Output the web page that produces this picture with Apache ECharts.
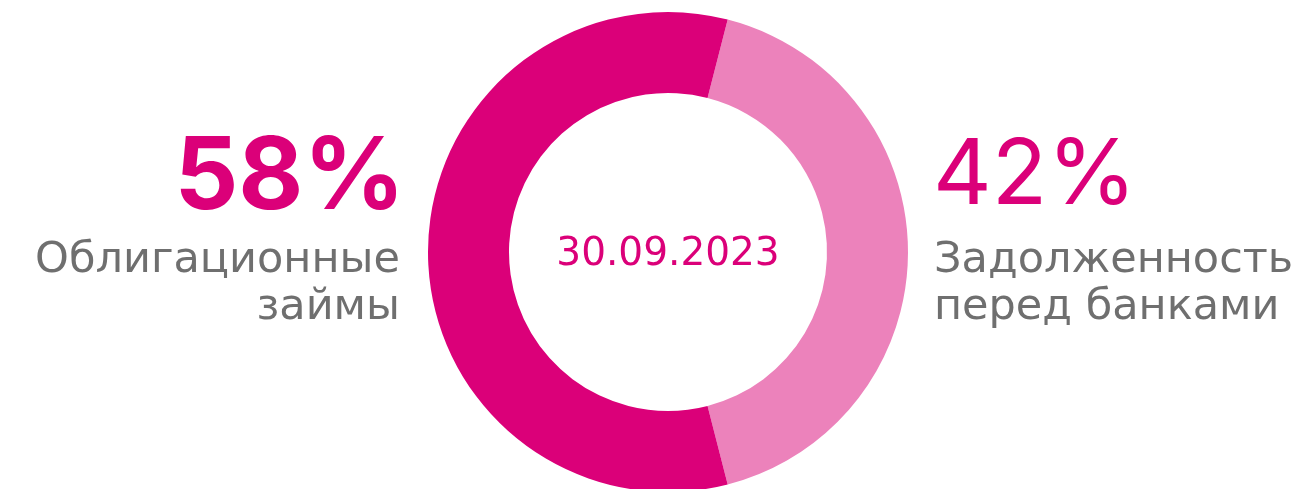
<!DOCTYPE html>
<html>
<head>
	<meta http-equiv="Content-Type" content="text/html;charset=utf-8">
	<title>Структура долга</title>
	<style>
		html, body{
			margin: 0;
			padding: 0;
			background: #fff;
		}
		#chart{
			width: 1311px;
			height: 489px;
		}
	</style>
</head>
<body>
<div id="chart"></div>

<script src="https://cdn.jsdelivr.net/npm/echarts@6/dist/echarts.min.js"></script>
<script>
	// данные
	var names = ['Задолженность\nперед банками', 'Облигационные\nзаймы'];
	var values = [42, 58];
	var colors = ['#ec82bb', '#db0079'];
	var dateLabel = '30.09.2023';

	var numFont = 'Inter, sans-serif';
	var txtFont = '"DejaVu Sans", sans-serif';
	var total = values.reduce(function (a, b){ return a + b; }, 0);

	function pct(i){
		return Math.round(values[i] / total * 100) + '%';
	}

	var pieData = [];
	for (var i = 0; i < values.length; i++) {
		pieData.push({
			name: names[i],
			value: values[i],
			itemStyle: {color: colors[i]}
		});
	}

	var option = {
		backgroundColor: '#fff',
		animation: false,
		series: [
			{
				type: 'pie',
				center: [668, 252],
				radius: [159, 240],
				// правый сектор симметричен относительно горизонтали
				startAngle: values[0] / total * 180,
				clockwise: true,
				label: {show: false},
				labelLine: {show: false},
				emphasis: {disabled: true},
				data: pieData
			}
		],
		graphic: [
			// дата в центре
			{
				type: 'text',
				x: 668, y: 255,
				style: {
					text: dateLabel,
					font: '39px ' + txtFont,
					fill: '#db0079',
					align: 'center',
					verticalAlign: 'middle'
				}
			},
			// левая подпись
			{
				type: 'text',
				x: 405, y: 179,
				style: {
					text: pct(1),
					font: 'bold 100px ' + numFont,
					fill: '#db0079',
					align: 'right',
					verticalAlign: 'middle'
				}
			},
			{
				type: 'text',
				x: 400, y: 284,
				style: {
					text: names[1],
					font: '43px ' + txtFont,
					lineHeight: 47,
					fill: '#6f6f6f',
					align: 'right',
					verticalAlign: 'middle'
				}
			},
			// правая подпись
			{
				type: 'text',
				x: 933, y: 177,
				style: {
					text: pct(0),
					font: '91px ' + numFont,
					fill: '#db0079',
					align: 'left',
					verticalAlign: 'middle'
				}
			},
			{
				type: 'text',
				x: 934, y: 284,
				style: {
					text: names[0],
					font: '43px ' + txtFont,
					lineHeight: 47,
					fill: '#6f6f6f',
					align: 'left',
					verticalAlign: 'middle'
				}
			}
		]
	};

	var myChart = echarts.init(document.getElementById('chart'));
	myChart.setOption(option);
</script>
</body>
</html>
